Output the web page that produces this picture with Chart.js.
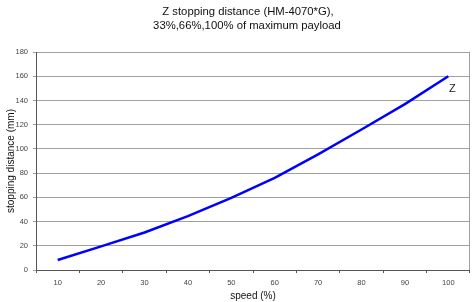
<!DOCTYPE html>
<html>
<head>
<meta charset="utf-8">
<script src="https://cdn.jsdelivr.net/npm/chart.js@4"></script>
<style>
	html, body { margin: 0; padding: 0; background: #fff; }
	#chart { display: block; }
</style>
</head>
<body>
<canvas id="chart" width="474" height="302"></canvas>
<script>
// -------- data
const speeds = ['10', '20', '30', '40', '50', '60', '70', '80', '90', '100'];
const z_distance = [8.3, 19.5, 31, 44.5, 59.5, 76, 95.5, 116, 137, 160];
const y_ticks = [0, 20, 40, 60, 80, 100, 120, 140, 160, 180];
const series_label = 'Z';
const title_lines = ['Z stopping distance (HM-4070*G),', '33%,66%,100% of maximum payload'];

const font_family = '"Liberation Sans", Arial, sans-serif';

// title, frame around plot area + series label at last point
const frame_plugin = {
	id: 'frame_plugin',
	afterDraw: function(chart){
		var ctx = chart.ctx;
		var a = chart.chartArea;
		ctx.save();
		// title
		ctx.fillStyle = '#111111';
		ctx.font = '11.3px ' + font_family;
		ctx.textAlign = 'center';
		ctx.textBaseline = 'middle';
		ctx.fillText(title_lines[0], 248, 11.5);
		ctx.fillText(title_lines[1], 247, 25.5);
		// frame
		ctx.strokeStyle = '#a0a0a0';
		ctx.lineWidth = 1;
		ctx.beginPath();
		ctx.moveTo(a.left, a.top + 0.5);
		ctx.lineTo(a.right - 0.5, a.top + 0.5);
		ctx.lineTo(a.right - 0.5, a.bottom);
		ctx.stroke();
		// axis lines
		ctx.strokeStyle = '#555555';
		ctx.beginPath();
		ctx.moveTo(a.left + 0.5, a.top);
		ctx.lineTo(a.left + 0.5, a.bottom + 0.5);
		ctx.lineTo(a.right, a.bottom + 0.5);
		ctx.stroke();
		// label
		var meta = chart.getDatasetMeta(0);
		var last = meta.data[meta.data.length - 1];
		ctx.fillStyle = '#222222';
		ctx.font = '11px ' + font_family;
		ctx.fillText(series_label, last.x + 4, last.y + 13);
		ctx.restore();
	}
};

new Chart(document.getElementById('chart'), {
	type: 'line',
	data: {
		labels: speeds,
		datasets: [{
			label: series_label,
			data: z_distance,
			borderColor: '#0000ff',
			backgroundColor: '#0000ff',
			borderWidth: 2.5,
			pointRadius: 0,
			tension: 0,
			fill: false
		}]
	},
	options: {
		responsive: false,
		animation: false,
		layout: { padding: { left: 0, right: 4, top: 52, bottom: 0 } },
		plugins: {
			legend: { display: false },
			tooltip: { enabled: false },
			title: { display: false }
		},
		scales: {
			x: {
				offset: true,
				grid: { display: true, drawOnChartArea: false, drawTicks: true, tickLength: 3, offset: true, color: '#555555' },
				border: { display: false },
				ticks: { color: '#444444', font: { family: font_family, size: 7.5 }, padding: 5, maxRotation: 0 },
				title: {
					display: true,
					text: 'speed (%)',
					color: '#111111',
					font: { family: font_family, size: 10 },
					padding: { top: 3, bottom: 0 }
				},
				afterFit: function(scale){ scale.height = 32; }
			},
			y: {
				min: 0,
				max: 180,
				afterBuildTicks: function(scale){ scale.ticks = y_ticks.map(v => ({value: v})); },
				grid: { color: '#a0a0a0', lineWidth: 1, drawTicks: true, tickLength: 3 },
				border: { display: false },
				ticks: { color: '#444444', font: { family: font_family, size: 7.5 }, padding: 5 },
				title: {
					display: true,
					text: 'stopping distance (mm)',
					color: '#111111',
					font: { family: font_family, size: 10 },
					padding: { top: 5, bottom: 0 }
				},
				afterFit: function(scale){ scale.width = 36; }
			}
		}
	},
	plugins: [frame_plugin]
});
</script>
</body>
</html>
